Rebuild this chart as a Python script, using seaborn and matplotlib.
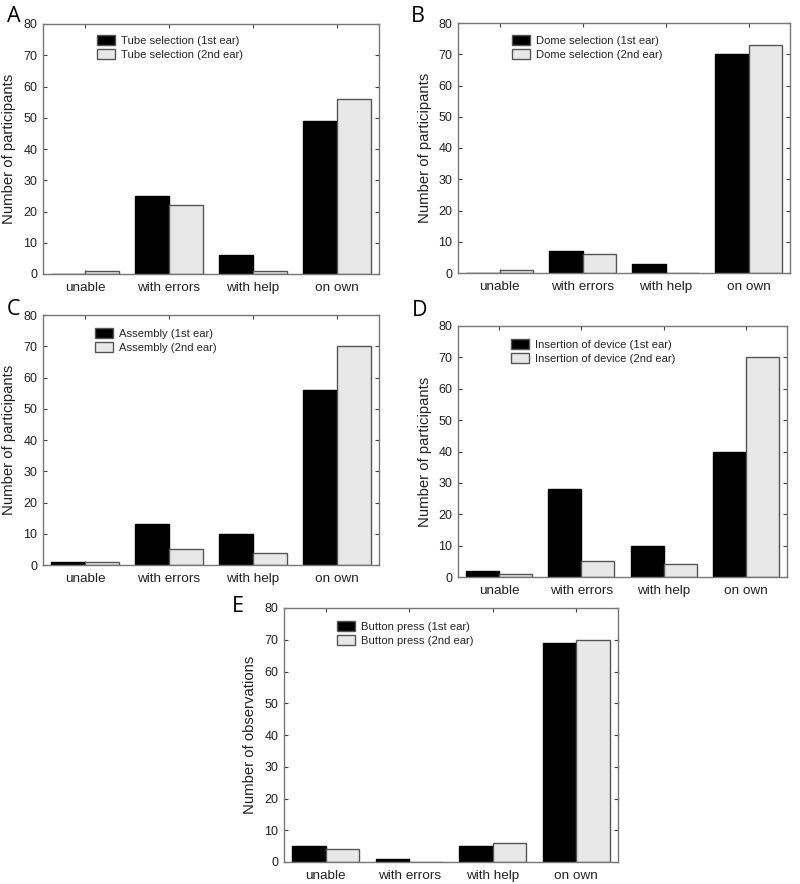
import matplotlib
matplotlib.use("Agg")
import matplotlib.pyplot as plt
import seaborn as sns
import pandas as pd

categories = ["unable", "with errors", "with help", "on own"]
ears = ["1st ear", "2nd ear"]

tube_1st = [0, 25, 6, 49]
tube_2nd = [1, 22, 1, 56]
dome_1st = [0, 7, 3, 70]
dome_2nd = [1, 6, 0, 73]
assembly_1st = [1, 13, 10, 56]
assembly_2nd = [1, 5, 4, 70]
insertion_1st = [2, 28, 10, 40]
insertion_2nd = [1, 5, 4, 70]
button_1st = [5, 1, 5, 69]
button_2nd = [4, 0, 6, 70]

panels = [
    ("A", "Tube selection", tube_1st, tube_2nd, "Number of participants"),
    ("B", "Dome selection", dome_1st, dome_2nd, "Number of participants"),
    ("C", "Assembly", assembly_1st, assembly_2nd, "Number of participants"),
    ("D", "Insertion of device", insertion_1st, insertion_2nd, "Number of participants"),
    ("E", "Button press", button_1st, button_2nd, "Number of observations"),
]

sns.set_theme(style="white")
plt.rcParams["font.family"] = ["Liberation Sans", "DejaVu Sans"]
plt.rcParams["hatch.linewidth"] = 0.3

W, H = 800, 884
fig = plt.figure(figsize=(W / 100, H / 100), dpi=100)

# axes boxes in pixels: left, right, top, bottom
boxes = [
    (43, 379, 24, 274),
    (458, 790, 23, 273),
    (43, 379, 315, 565),
    (458, 787, 326, 577),
    (284, 618, 608, 862),
]
label_pos = [(7, 22), (411, 22), (7, 315), (412, 316), (232, 612)]
legend_pos = [(97, 35), (512, 35), (95, 328), (511, 339), (337, 621)]

gray = "#e8e8e8"
can_hatch = hasattr(matplotlib.patches.Patch, "set_hatchcolor")
for (letter, name, v1, v2, ylab), (l, r, t, b), (lx, ly), (gx, gy) in zip(
        panels, boxes, label_pos, legend_pos):
    ax = fig.add_axes([l / W, (H - b) / H, (r - l) / W, (b - t) / H])
    df = pd.DataFrame({
        "cat": categories * 2,
        "val": list(v1) + list(v2),
        "ear": [f"{name} ({ears[0]})"] * 4 + [f"{name} ({ears[1]})"] * 4,
    })
    sns.barplot(data=df, x="cat", y="val", hue="ear", ax=ax,
                palette=["black", gray], width=0.8, saturation=1,
                edgecolor="#555555", linewidth=1.0, errorbar=None)
    ax.set_ylim(0, 80)
    ax.set_yticks(range(0, 81, 10))
    ax.set_xlim(-0.5, 3.5)
    ax.set_xlabel("")
    ax.set_ylabel(ylab, fontsize=10.7, color="#222222", labelpad=5)
    ax.tick_params(axis="both", direction="in", length=3, width=0.8,
                   colors="#444444", labelcolor="#222222",
                   top=True, right=True, bottom=True, left=True)
    ax.tick_params(axis="x", labelsize=9.7, pad=6)
    ax.tick_params(axis="y", labelsize=9, pad=4)
    for s in ax.spines.values():
        s.set_color("#777777")
        s.set_linewidth(1.0)
    handles, labels = ax.get_legend_handles_labels()
    ax.legend(handles, labels, loc="upper left",
              bbox_to_anchor=(gx / W, (H - gy) / H),
              bbox_transform=fig.transFigure, frameon=False,
              fontsize=8.1, handlelength=1.6, handleheight=0.95,
              handletextpad=0.5, labelspacing=0.3, borderpad=0,
              borderaxespad=0)
    for p in ax.patches:
        fc = p.get_facecolor()
        if fc[0] < 0.5:
            p.set_edgecolor("black")
        else:
            p.set_edgecolor("#555555")
            if can_hatch:
                p.set_hatch("++++")
                p.set_hatchcolor("#d0d0d0")
    fig.text(lx / W, (H - ly) / H, letter, fontsize=15.5,
             family=["Open Sans", "DejaVu Sans"], color="black",
             ha="left", va="baseline")

fig.savefig("out.png", dpi=100)
